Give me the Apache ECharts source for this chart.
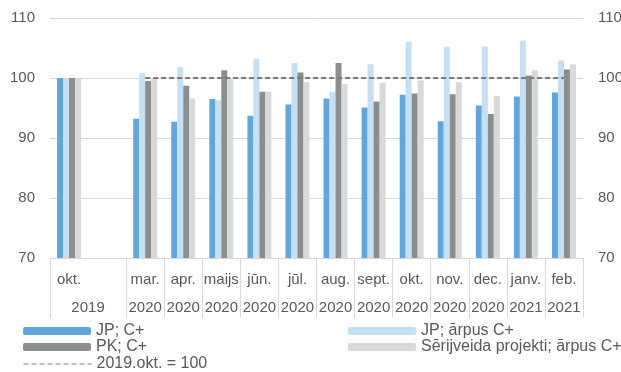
<!DOCTYPE html>
<html>
<head>
<meta charset="utf-8">
<script src="https://cdn.jsdelivr.net/npm/echarts@6/dist/echarts.min.js"></script>
<style>
  html, body { margin: 0; padding: 0; background: #fff; }
  #chart { width: 621px; height: 372px; }
</style>
</head>
<body>
<div id="chart"></div>
<script>
// category labels (second slot is an empty spacer after okt. 2019)
var months = ['okt.', '', 'mar.', 'apr.', 'maijs', 'jūn.', 'jūl.', 'aug.', 'sept.', 'okt.', 'nov.', 'dec.', 'janv.', 'feb.'];
var years = ['2019', '', '2020', '2020', '2020', '2020', '2020', '2020', '2020', '2020', '2020', '2020', '2021', '2021'];

var jpC = [100, null, 93.2, 92.7, 96.5, 93.7, 95.6, 96.6, 95.1, 97.2, 92.8, 95.4, 96.9, 97.6];
var jpOut = [100, null, 100.8, 101.8, 96.3, 103.2, 102.5, 97.7, 102.3, 106.0, 105.2, 105.2, 106.2, 102.9];
var pkC = [100, null, 99.5, 98.7, 101.3, 97.7, 100.9, 102.5, 96.1, 97.4, 97.3, 94.0, 100.4, 101.4];
var serialOut = [100, null, 100, 96.6, 99.9, 97.7, 99.3, 99.0, 99.2, 99.6, 99.3, 97.0, 101.3, 102.3];
var baseLine = [null, null, 100, 100, 100, 100, 100, 100, 100, 100, 100, 100, 100, 100];

var txt = '#595959';
var font = 'Liberation Sans, Arial, sans-serif';

var chart = echarts.init(document.getElementById('chart'));

var yearData = years.map(function (y, i) {
  // 2019 label is centred across the okt. slot and the spacer
  return i === 0 ? { value: y, textStyle: { padding: [0, 0, 0, 38] } } : y;
});

function barSeries(name, data, color) {
  return {
    name: name,
    type: 'bar',
    data: data,
    barGap: '0%',
    barCategoryGap: '37%',
    itemStyle: { color: color },
    animation: false
  };
}

function legendItem(item, left, top) {
  return {
    left: left,
    top: top,
    itemWidth: 68,
    itemHeight: 8,
    padding: 0,
    textStyle: { color: txt, fontSize: 16, fontFamily: font },
    data: [item]
  };
}

chart.setOption({
  animation: false,
  grid: { left: 50, right: 38, top: 18, bottom: 114, outerBoundsMode: 'none', containLabel: false },
  xAxis: [{
    type: 'category',
    data: months,
    boundaryGap: true,
    axisLine: { lineStyle: { color: '#d9d9d9', width: 1 } },
    axisTick: {
      show: true,
      length: 60,
      interval: function (i) { return i !== 1; },
      lineStyle: { color: '#d9d9d9' }
    },
    axisLabel: { interval: 0, color: txt, fontSize: 15, fontFamily: font, margin: 14 }
  }, {
    type: 'category',
    position: 'bottom',
    data: yearData,
    axisLine: { show: false },
    axisTick: { show: false },
    axisLabel: { interval: 0, color: txt, fontSize: 15, fontFamily: font, margin: 42 }
  }],
  yAxis: [{
    type: 'value',
    min: 70,
    max: 110,
    interval: 10,
    axisLine: { show: false },
    axisTick: { show: false },
    splitLine: { lineStyle: { color: '#d9d9d9', width: 1 } },
    axisLabel: { color: txt, fontSize: 15, fontFamily: font, margin: 15 }
  }, {
    type: 'value',
    position: 'right',
    min: 70,
    max: 110,
    interval: 10,
    axisLine: { show: false },
    axisTick: { show: false },
    splitLine: { show: false },
    axisLabel: { color: txt, fontSize: 15, fontFamily: font, margin: 15 }
  }],
  legend: [
    legendItem('JP; C+', 23, 323),
    legendItem('PK; C+', 23, 339),
    legendItem({ name: '2019.okt. = 100', itemStyle: { opacity: 0 }, lineStyle: { width: 1 } }, 23, 356),
    legendItem('JP; ārpus C+', 348, 323),
    legendItem('Sērijveida projekti; ārpus C+', 348, 339)
  ],
  series: [
    barSeries('JP; C+', jpC, '#62a6dc'),
    barSeries('JP; ārpus C+', jpOut, '#c6dff3'),
    barSeries('PK; C+', pkC, '#8b8e8e'),
    barSeries('Sērijveida projekti; ārpus C+', serialOut, '#d9d9d9'),
    {
      name: '2019.okt. = 100',
      type: 'line',
      data: baseLine,
      symbol: 'none',
      lineStyle: { color: '#7a7a7a', width: 2, type: [5, 3] },
      itemStyle: { color: '#7a7a7a' },
      z: 5,
      animation: false
    }
  ]
});
</script>
</body>
</html>
